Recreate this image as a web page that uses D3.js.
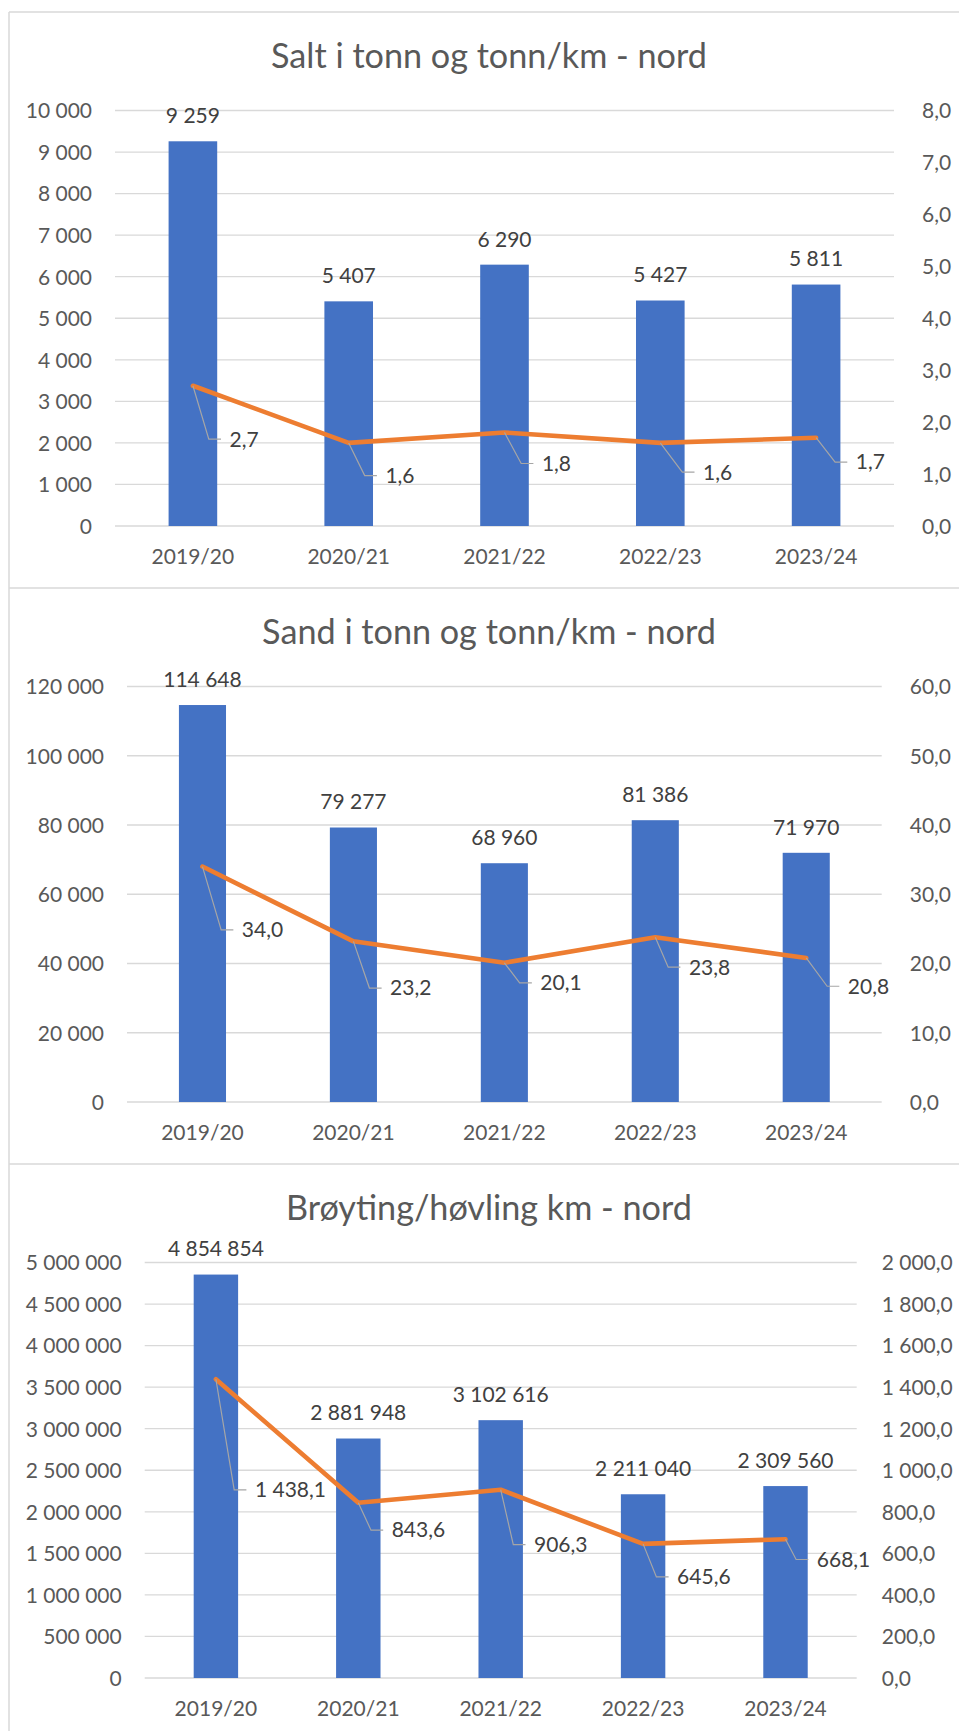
<!DOCTYPE html>
<html lang="no">
<head>
<meta charset="utf-8">
<script src="https://cdn.jsdelivr.net/npm/d3@7"></script>
<style>
  html, body { margin: 0; padding: 0; background: #fff; }
  svg { display: block; }
  text { font-family: Lato, "Open Sans", sans-serif; }
</style>
</head>
<body>
<svg id="chart" width="959" height="1731"></svg>
<script>
// Sesonger (kategorier)
const seasons = ["2019/20", "2020/21", "2021/22", "2022/23", "2023/24"];

// Salt: tonn og tonn/km
const saltTonn = [9259, 5407, 6290, 5427, 5811];
const saltPerKm = [2.7, 1.6, 1.8, 1.6, 1.7];
const saltLeftTicks = [0, 1000, 2000, 3000, 4000, 5000, 6000, 7000, 8000, 9000, 10000];
const saltRightTicks = [0, 1, 2, 3, 4, 5, 6, 7, 8];

// Sand: tonn og tonn/km
const sandTonn = [114648, 79277, 68960, 81386, 71970];
const sandPerKm = [34.0, 23.2, 20.1, 23.8, 20.8];
const sandLeftTicks = [0, 20000, 40000, 60000, 80000, 100000, 120000];
const sandRightTicks = [0, 10, 20, 30, 40, 50, 60];

// Brøyting/høvling: km og km per km veg
const broytingKm = [4854854, 2881948, 3102616, 2211040, 2309560];
const broytingPerKm = [1438.1, 843.6, 906.3, 645.6, 668.1];
const broytingLeftTicks = [0, 500000, 1000000, 1500000, 2000000, 2500000, 3000000, 3500000, 4000000, 4500000, 5000000];
const broytingRightTicks = [0, 200, 400, 600, 800, 1000, 1200, 1400, 1600, 1800, 2000];

const titles = [
  "Salt i tonn og tonn/km - nord",
  "Sand i tonn og tonn/km - nord",
  "Brøyting/høvling km - nord"
];

// Manually placed line-label offsets (text start relative to the point)
const saltLabelShift = [[36.6, 53.4], [36.7, 32.7], [37.4, 31], [42.7, 29.3], [39.7, 24.4]];
const sandLabelShift = [[39.4, 63.3], [36.7, 46.7], [36, 20], [33.6, 30], [41.6, 28.3]];
const broytingLabelShift = [[39, 110.7], [33.4, 27.4], [33.3, 55], [34, 33], [31.3, 20.3]];

// Panel geometry
const panels = [
  { top: 12,  plotLeft: 115,   plotRight: 894,   rightGap: 28 },
  { top: 588, plotLeft: 127,   plotRight: 881.7, rightGap: 28 },
  { top: 1164, plotLeft: 144.7, plotRight: 856.7, rightGap: 25 }
];

const series = [
  { bars: saltTonn, line: saltPerKm, left: saltLeftTicks, right: saltRightTicks, shift: saltLabelShift },
  { bars: sandTonn, line: sandPerKm, left: sandLeftTicks, right: sandRightTicks, shift: sandLabelShift },
  { bars: broytingKm, line: broytingPerKm, left: broytingLeftTicks, right: broytingRightTicks, shift: broytingLabelShift }
];

const no = d3.formatLocale({ decimal: ",", thousands: "\u00a0", grouping: [3], currency: ["kr ", ""] });
const fmtInt = no.format(",d");
const fmtDec = no.format(",.1f");

const C = {
  bar: "#4472C4",
  line: "#ED7D31",
  grid: "#D9D9D9",
  axisText: "#595959",
  labelText: "#404040",
  leader: "#A6A6A6",
  frame: "#D9D9D9"
};

const svg = d3.select("#chart");
const W = 959, H = 1731;

// Outer frame: left edge and horizontal separators
svg.append("line").attr("x1", 9).attr("x2", 9).attr("y1", 12).attr("y2", H)
  .attr("stroke", C.frame).attr("stroke-width", 1.5);
panels.forEach(p => {
  svg.append("line").attr("x1", 9).attr("x2", W).attr("y1", p.top).attr("y2", p.top)
    .attr("stroke", C.frame).attr("stroke-width", 1.5);
});

panels.forEach((p, k) => {
  const s = series[k];
  const g = svg.append("g");
  const plotTop = p.top + 98.5;
  const plotBottom = p.top + 514;

  const x = d3.scaleBand().domain(seasons).range([p.plotLeft, p.plotRight])
    .paddingInner(0.688).paddingOuter(0.344);
  const yL = d3.scaleLinear().domain([s.left[0], s.left[s.left.length - 1]]).range([plotBottom, plotTop]);
  const yR = d3.scaleLinear().domain([s.right[0], s.right[s.right.length - 1]]).range([plotBottom, plotTop]);
  const cx = d => x(d) + x.bandwidth() / 2;

  // Title
  g.append("text")
    .attr("x", 489).attr("y", p.top + 44)
    .attr("dy", "0.35em")
    .attr("text-anchor", "middle")
    .attr("fill", C.axisText)
    .attr("font-size", 34.2)
    .text(titles[k]);

  // Gridlines
  g.append("g").selectAll("line").data(s.left).join("line")
    .attr("x1", p.plotLeft).attr("x2", p.plotRight)
    .attr("y1", d => yL(d)).attr("y2", d => yL(d))
    .attr("stroke", C.grid).attr("stroke-width", 1.3);

  // Left axis labels
  const leftAxis = d3.axisLeft(yL).tickValues(s.left).tickFormat(fmtInt).tickSize(0).tickPadding(23);
  const la = g.append("g").attr("transform", `translate(${p.plotLeft},0)`).call(leftAxis);
  la.select(".domain").remove();
  la.selectAll("text").attr("fill", C.axisText).attr("font-size", 21)
    .attr("font-family", "Lato, sans-serif").attr("dy", "0.35em");

  // Right axis labels
  const rightAxis = d3.axisRight(yR).tickValues(s.right).tickFormat(fmtDec).tickSize(0).tickPadding(p.rightGap);
  const ra = g.append("g").attr("transform", `translate(${p.plotRight},0)`).call(rightAxis);
  ra.select(".domain").remove();
  ra.selectAll("text").attr("fill", C.axisText).attr("font-size", 21)
    .attr("font-family", "Lato, sans-serif").attr("dy", "0.35em");

  // Category axis labels
  const bottomAxis = d3.axisBottom(x).tickSize(0).tickPadding(0);
  const ba = g.append("g").attr("transform", `translate(0,${plotBottom + 31})`).call(bottomAxis);
  ba.select(".domain").remove();
  ba.selectAll("text").attr("fill", C.axisText).attr("font-size", 21)
    .attr("font-family", "Lato, sans-serif").attr("dy", "0.35em");

  // Bars
  g.append("g").selectAll("rect").data(seasons).join("rect")
    .attr("x", d => x(d))
    .attr("width", x.bandwidth())
    .attr("y", (d, i) => yL(s.bars[i]))
    .attr("height", (d, i) => plotBottom - yL(s.bars[i]))
    .attr("fill", C.bar);

  // Bar value labels
  g.append("g").selectAll("text").data(seasons).join("text")
    .attr("x", d => cx(d))
    .attr("y", (d, i) => yL(s.bars[i]) - 25.5)
    .attr("dy", "0.35em")
    .attr("text-anchor", "middle")
    .attr("fill", C.labelText)
    .attr("font-size", 21)
    .text((d, i) => fmtInt(s.bars[i]));

  // Line (secondary axis)
  const line = d3.line().x(d => cx(d)).y((d, i) => yR(s.line[i]));
  g.append("path").datum(seasons)
    .attr("d", line)
    .attr("fill", "none")
    .attr("stroke", C.line)
    .attr("stroke-width", 4.6)
    .attr("stroke-linejoin", "round")
    .attr("stroke-linecap", "round");

  // Leader lines and line labels
  const lab = g.append("g");
  seasons.forEach((d, i) => {
    const px = cx(d), py = yR(s.line[i]);
    const tx = px + s.shift[i][0], ty = py + s.shift[i][1];
    lab.append("path")
      .attr("d", `M${px},${py}L${tx - 20.7},${ty}L${tx - 8.5},${ty}`)
      .attr("fill", "none")
      .attr("stroke", C.leader)
      .attr("stroke-width", 1.2);
    lab.append("text")
      .attr("x", tx).attr("y", ty)
      .attr("dy", "0.35em")
      .attr("fill", C.labelText)
      .attr("font-size", 21)
      .text(fmtDec(s.line[i]));
  });
});
</script>
</body>
</html>
